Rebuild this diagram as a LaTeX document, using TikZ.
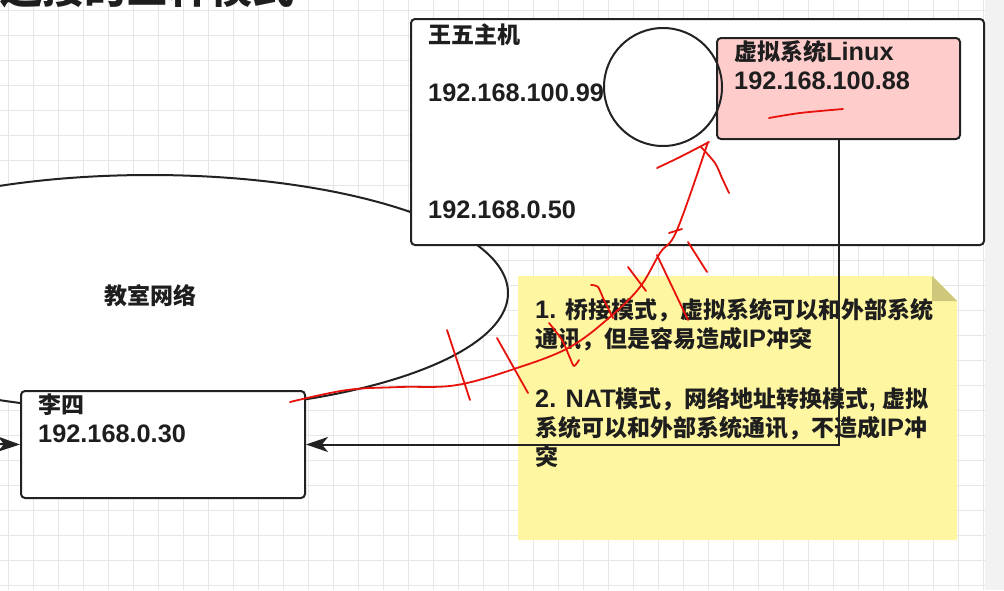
\documentclass[tikz,border=0pt]{standalone}
\usepackage{fontspec}
\setmainfont{Liberation Sans}[Scale=1.1]
\newfontfamily\cjk{Noto Sans CJK SC}
\usetikzlibrary{arrows.meta,shapes.geometric}
\definecolor{gridc}{HTML}{E6E6E6}
\definecolor{linec}{HTML}{222222}
\definecolor{textc}{HTML}{1E1E1E}
\definecolor{pinkc}{HTML}{FFCCCC}
\definecolor{notec}{HTML}{FFF6A2}
\definecolor{foldc}{HTML}{CFC87C}
\definecolor{penc}{HTML}{E8120C}
\definecolor{stripc}{HTML}{F2F2F2}
\begin{document}
\begin{tikzpicture}[x=1pt,y=-1pt,
  box/.style={draw=linec, line width=2pt, rounded corners=4pt, inner sep=0pt, anchor=north west},
  lbl/.style={anchor=base west, inner sep=0pt, text=textc, font=\bfseries\fontsize{23}{28}\selectfont},
  conn/.style={draw=linec, line width=2pt},
  tip/.style={-{Stealth[length=22pt,width=15pt,inset=6pt]}},
  pen/.style={draw=penc, line width=1.8pt, line cap=round, line join=round}]
\useasboundingbox (0,0) rectangle (1004,590);
\fill[white] (0,0) rectangle (1004,590);
% grid
\foreach \x in {8,33,...,983} \draw[gridc, line width=1pt] (\x,0) -- (\x,590);
\foreach \y in {10,35,...,585} \draw[gridc, line width=1pt] (0,\y) -- (985,\y);
\fill[stripc] (985,0) rectangle (1004,590);
% title (cut off at the top)
\node[anchor=base east, inner sep=0pt, text=textc, font=\bfseries\fontsize{42}{48}\selectfont\cjk] (title) at (295,3) {连接的三种模式};
% classroom network
\node[ellipse, draw=linec, line width=2pt, fill=white, inner sep=0pt, minimum width=716pt, minimum height=236pt] (net) at (150,293) {};
\node[anchor=base, inner sep=0pt, text=textc, font=\bfseries\fontsize{23}{28}\selectfont\cjk] (netlbl) at (150,304) {教室网络};
% host box
\node[box, fill=white, minimum width=573pt, minimum height=226pt] (host) at (410,18) {};
\node[lbl] (hostname) at (428,43.5) {{\cjk 王五主机}};
\node[lbl] (hostip1) at (428,101) {192.168.100.99};
\node[lbl] (hostip2) at (428,218) {192.168.0.50};
% virtual system
\node[box, fill=pinkc, minimum width=243pt, minimum height=101pt] (vm) at (716,37) {};
\node[lbl] (vmname) at (734,60) {{\cjk 虚拟系统}Linux};
\node[lbl] (vmip) at (734,89) {192.168.100.88};
% circle
\node[circle, draw=linec, line width=2pt, inner sep=0pt, minimum size=118pt] (nic) at (663,87) {};
% lisi box
\node[box, fill=white, minimum width=284pt, minimum height=107pt] (lisi) at (20,390) {};
\node[lbl] (lisiname) at (38,413) {{\cjk 李四}};
\node[lbl] (lisiip) at (38,442) {192.168.0.30};
% note
\fill[notec] (518,276) -- (932,276) -- (957,301) -- (957,540) -- (518,540) -- cycle;
\fill[foldc] (932,276) -- (932,301) -- (957,301) -- cycle;
\node[lbl] (n1) at (535,318) {1. {\cjk 桥接模式，虚拟系统可以和外部系统}};
\node[lbl] (n2) at (535,347) {{\cjk 通讯，但是容易造成}IP{\cjk 冲突}};
\node[lbl] (n3) at (535,407) {2. NAT{\cjk 模式，网络地址转换模式}, {\cjk 虚拟}};
\node[lbl] (n4) at (535,436) {{\cjk 系统可以和外部系统通讯，不造成}IP{\cjk 冲}};
\node[lbl] (n5) at (535,465) {{\cjk 突}};
% connectors
\draw[conn, tip] (vm.south) |- (lisi.east);
\coordinate (offleft) at (-40,443.5);
\draw[conn, tip] (offleft) -- (lisi.west);
% red hand drawing
\draw[pen] plot[smooth, tension=0.6] coordinates {(290,402) (347,390) (400,387) (457,385) (520,367) (570,347) (610,317) (640,287) (660,253) (677,230) (708,142)};
\draw[pen] plot[smooth] coordinates {(657,168) (680,157) (709,142)};
\draw[pen] plot[smooth] coordinates {(701,147) (715,163) (722,178) (729,193)};
\draw[pen] (447,330) -- (470,400);
\draw[pen] (497,338) -- (528,393);
\draw[pen] plot[smooth] coordinates {(549,323) (562,340) (570,358) (574,366) (579,360)};
\draw[pen] plot[smooth] coordinates {(591,285) (598,287) (604,300) (613,318)};
\draw[pen] (628,267) -- (646,291);
\draw[pen] (657,255) -- (688,320);
\draw[pen] (669,233) -- (682,229);
\draw[pen] (688,242) -- (707,272);
\draw[pen] plot[smooth] coordinates {(769,118) (800,113) (843,109)};
\end{tikzpicture}
\end{document}
